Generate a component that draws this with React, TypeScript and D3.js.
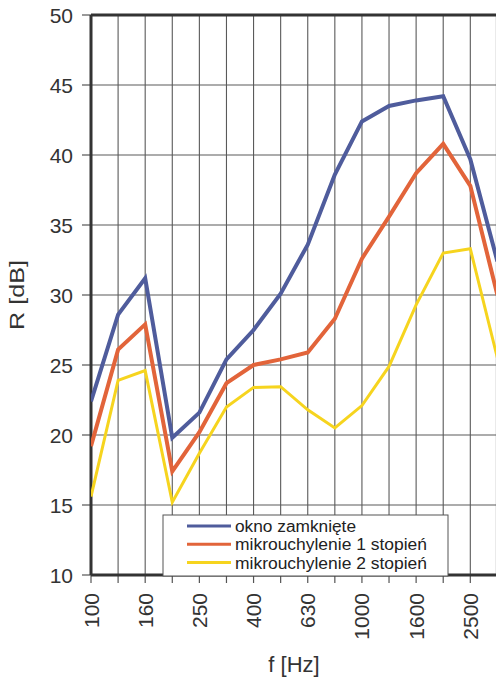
import React from "react";
import * as d3 from "d3";

const categories = ["100", "125", "160", "200", "250", "315", "400", "500", "630", "800", "1000", "1250", "1600", "2000", "2500", "3150"];
const tickLabels = ["100", "160", "250", "400", "630", "1000", "1600", "2500"];
const yTicks = [10, 15, 20, 25, 30, 35, 40, 45, 50];

const oknoZamkniete = [22.4, 28.6, 31.2, 19.8, 21.6, 25.4, 27.5, 30.1, 33.6, 38.6, 42.4, 43.5, 43.9, 44.2, 39.7, 32.4];
const mikro1 = [19.2, 26.1, 27.9, 17.4, 20.2, 23.7, 25.0, 25.4, 25.9, 28.3, 32.6, 35.6, 38.7, 40.8, 37.8, 30.0];
const mikro2 = [15.6, 23.9, 24.6, 15.2, 18.7, 22.0, 23.4, 23.45, 21.8, 20.5, 22.1, 24.9, 29.3, 33.0, 33.3, 25.5];

const seriesNames = ["okno zamknięte", "mikrouchylenie 1 stopień", "mikrouchylenie 2 stopień"];
const seriesColors = ["#4f5c9c", "#e2643a", "#f6d41e"];
const seriesWidths = [4, 4, 3];
const legendTextWidths = [121, 192, 192];

export default function App() {
  const W = 496, H = 681;
  const left = 91, right = 497.4, top = 15, bottom = 575;
  const x = d3.scalePoint<string>().domain(categories).range([left, right]);
  const y = d3.scaleLinear().domain([10, 50]).range([bottom, top]);
  const line = d3.line<number>().x((_, i) => x(categories[i])!).y((d) => y(d));
  const allSeries = [oknoZamkniete, mikro1, mikro2];
  const font = "'Liberation Sans', Arial, sans-serif";

  const legX = 163, legY = 515, legW = 285, legH = 61;

  return (
    <div style={{ position: "absolute", left: 0, top: 0, width: W, height: H, overflow: "hidden", background: "#fff" }}>
      <svg width={W} height={H} style={{ display: "block" }} fontFamily={font}>
        <rect x={0} y={0} width={W} height={H} fill="#fff" />
        <defs>
          <clipPath id="plotclip">
            <rect x={left} y={top - 5} width={right - left + 10} height={bottom - top + 10} />
          </clipPath>
        </defs>
        {categories.map((c) => (
          <line key={"vg" + c} x1={x(c)} x2={x(c)} y1={top} y2={bottom} stroke="#5a5a5a" strokeWidth={1.1} />
        ))}
        {yTicks.map((t) => (
          <line key={"hg" + t} x1={left} x2={right} y1={y(t)} y2={y(t)} stroke="#5a5a5a" strokeWidth={1.1} />
        ))}
        {categories.map((c) => (
          <line key={"xt" + c} x1={x(c)} x2={x(c)} y1={bottom} y2={bottom + 8} stroke="#555" strokeWidth={1.2} />
        ))}
        {yTicks.map((t) => (
          <line key={"yt" + t} x1={left - 9} x2={left} y1={y(t)} y2={y(t)} stroke="#555" strokeWidth={1.2} />
        ))}
        <line x1={left} x2={right} y1={top} y2={top} stroke="#333" strokeWidth={3} />
        <line x1={left} x2={right} y1={bottom} y2={bottom} stroke="#333" strokeWidth={3} />
        <line x1={left} x2={left} y1={top} y2={bottom} stroke="#333" strokeWidth={3} />
        <line x1={right} x2={right} y1={top} y2={bottom} stroke="#333" strokeWidth={3} />
        <g clipPath="url(#plotclip)">
          {allSeries.map((s, i) => (
            <path key={"s" + i} d={line(s) || ""} fill="none" stroke={seriesColors[i]} strokeWidth={seriesWidths[i]} strokeLinejoin="miter" />
          ))}
        </g>
        {yTicks.map((t) => (
          <text key={"yl" + t} x={left - 18} y={y(t) + 7.5} textAnchor="end" fontSize={21} fill="#333">{t}</text>
        ))}
        {tickLabels.map((c) => (
          <text key={"xl" + c} transform={`translate(${x(c)! + 7.5},593) rotate(-90)`} textAnchor="end" fontSize={21} fill="#333">{c}</text>
        ))}
        <text x={294} y={672} textAnchor="middle" fontSize={22} fill="#333">f [Hz]</text>
        <text transform="translate(24,295) rotate(-90)" textAnchor="middle" fontSize={21} fill="#333" textLength={70} lengthAdjust="spacingAndGlyphs">R [dB]</text>
        <rect x={legX} y={legY} width={legW} height={legH} fill="#fff" stroke="#555" strokeWidth={1} />
        {seriesNames.map((n, i) => {
          const ly = 526 + i * 18.3;
          return (
            <g key={"lg" + i}>
              <line x1={187} x2={231} y1={ly} y2={ly} stroke={seriesColors[i]} strokeWidth={3} />
              <text x={235} y={ly + 6} fontSize={16} fill="#222" textLength={legendTextWidths[i]} lengthAdjust="spacingAndGlyphs">{n}</text>
            </g>
          );
        })}
      </svg>
    </div>
  );
}
